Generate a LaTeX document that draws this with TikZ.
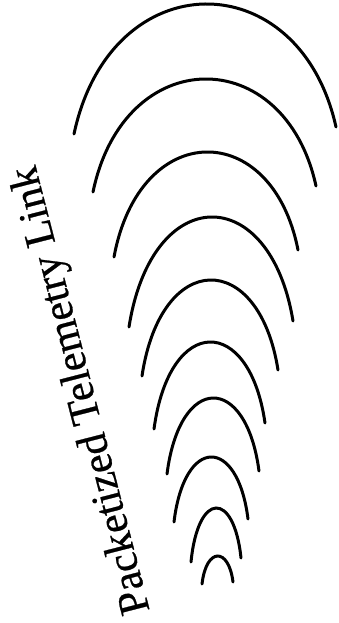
\documentclass[tikz,border=0pt]{standalone}
\usepackage{fontspec}
\setmainfont{Liberation Serif}
\newfontfamily\scanfont[BoldFont=Liberation Serif,BoldFeatures={FakeBold=0.6}]{Liberation Serif}
\begin{document}
\begin{tikzpicture}[x=1pt,y=-1pt,
  wave/.style={line width=3pt,line cap=round,black},
  label/.style={inner sep=0pt,outer sep=0pt,anchor=base,rotate=104.4,
    font=\scanfont\bfseries\fontsize{42.8}{50}\selectfont}]
\useasboundingbox (0,0) rectangle (338,623);
\foreach \xl/\yl/\xr/\yr/\yt in {
  74/134/336/127/4,
  93/192/316/186/79,
  114/257/298/250/152,
  129/327/293/321/217,
  142/376/278/370/280,
  154/429/265/423/342,
  167/474/259/471/398,
  174/522/248/519/457,
  191/562/241/558/508,
  202/584/233/582/556}{
  \pgfmathsetmacro\yc{(\yt-(\yl+\yr)/8)/0.75}
  \pgfmathsetmacro\dd{0.28*(\xr-\xl)/2}
  \draw[wave] (\xl,\yl) .. controls (\xl+\dd,\yc) and (\xr-\dd,\yc) .. (\xr,\yr);
}
\node[label] (title) at (92.5,387.5) {Packetized Telemetry Link};
\end{tikzpicture}
\end{document}
